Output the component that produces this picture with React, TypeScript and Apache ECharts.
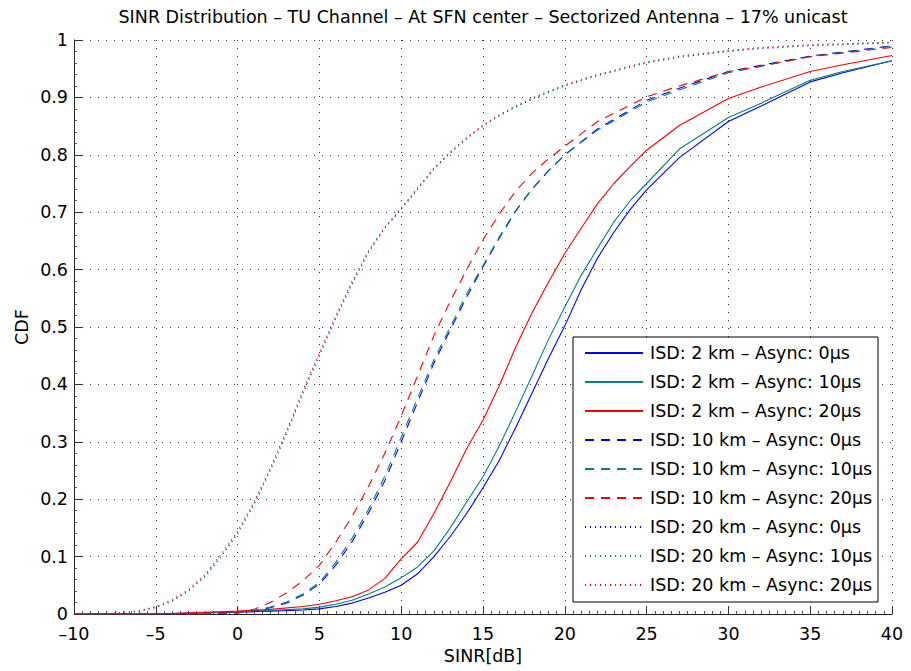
import React, { useEffect, useRef } from "react";
import * as echarts from "echarts";

const TITLE = "SINR Distribution \u2013 TU Channel \u2013 At SFN center \u2013 Sectorized Antenna \u2013 17% unicast";
const X_NAME = "SINR[dB]";
const Y_NAME = "CDF";

const seriesNames = [
  "ISD: 2 km \u2013 Async: 0\u03bcs",
  "ISD: 2 km \u2013 Async: 10\u03bcs",
  "ISD: 2 km \u2013 Async: 20\u03bcs",
  "ISD: 10 km \u2013 Async: 0\u03bcs",
  "ISD: 10 km \u2013 Async: 10\u03bcs",
  "ISD: 10 km \u2013 Async: 20\u03bcs",
  "ISD: 20 km \u2013 Async: 0\u03bcs",
  "ISD: 20 km \u2013 Async: 10\u03bcs",
  "ISD: 20 km \u2013 Async: 20\u03bcs",
];

// 2 km (solid)
const solidX = [-10, -5, 0, 2, 4, 5, 6, 7, 8, 9, 10, 11, 12, 13, 14, 15, 16, 17, 18, 19, 20, 21, 22, 23, 24, 25, 27, 30, 32, 35, 37, 40];
const solidBlue = [0, 0, 0.003, 0.005, 0.007, 0.009, 0.013, 0.019, 0.028, 0.038, 0.05, 0.07, 0.1, 0.135, 0.175, 0.22, 0.268, 0.325, 0.385, 0.445, 0.502, 0.565, 0.62, 0.665, 0.705, 0.739, 0.795, 0.858, 0.885, 0.927, 0.943, 0.964];
const solidTeal = [0, 0, 0.004, 0.006, 0.009, 0.012, 0.017, 0.024, 0.035, 0.047, 0.063, 0.082, 0.11, 0.15, 0.195, 0.239, 0.293, 0.353, 0.415, 0.478, 0.535, 0.59, 0.637, 0.683, 0.72, 0.75, 0.81, 0.865, 0.89, 0.93, 0.945, 0.964];
const solidRed = [0, 0, 0.005, 0.008, 0.013, 0.017, 0.023, 0.03, 0.042, 0.062, 0.096, 0.125, 0.175, 0.23, 0.288, 0.338, 0.398, 0.465, 0.525, 0.578, 0.628, 0.672, 0.715, 0.75, 0.78, 0.808, 0.851, 0.898, 0.918, 0.945, 0.957, 0.973];

// 10 km (dashed)
const dashedX = [-10, -2, 0, 1, 2, 3, 4, 5, 6, 7, 8, 9, 10, 11, 12, 13, 14, 15, 16, 17, 18, 19, 20, 22, 25, 27, 30, 32, 35, 40];
const dashedBlue = [0, 0, 0.002, 0.005, 0.011, 0.019, 0.033, 0.052, 0.085, 0.126, 0.176, 0.232, 0.3, 0.369, 0.437, 0.495, 0.552, 0.605, 0.655, 0.702, 0.74, 0.772, 0.8, 0.845, 0.895, 0.916, 0.945, 0.956, 0.972, 0.99];
const dashedTeal = [0, 0, 0.002, 0.006, 0.012, 0.021, 0.035, 0.055, 0.09, 0.132, 0.182, 0.24, 0.308, 0.376, 0.443, 0.5, 0.558, 0.607, 0.657, 0.703, 0.741, 0.772, 0.8, 0.843, 0.892, 0.913, 0.943, 0.954, 0.971, 0.989];
const dashedRed = [0, 0, 0.003, 0.008, 0.02, 0.037, 0.058, 0.085, 0.125, 0.17, 0.222, 0.28, 0.345, 0.415, 0.485, 0.545, 0.6, 0.652, 0.697, 0.737, 0.768, 0.793, 0.815, 0.858, 0.901, 0.92, 0.945, 0.955, 0.971, 0.987];

// 20 km (dotted)
const dottedX = [-10, -8, -7, -6, -5, -4, -3, -2, -1, 0, 1, 2, 3, 4, 5, 6, 7, 8, 9, 10, 11, 12, 13, 14, 15, 16, 17, 18, 20, 22, 25, 27, 30, 32, 35, 40];
const dottedBlue = [0, 0, 0.002, 0.005, 0.011, 0.022, 0.04, 0.065, 0.1, 0.14, 0.19, 0.25, 0.315, 0.385, 0.45, 0.515, 0.575, 0.63, 0.672, 0.705, 0.74, 0.775, 0.803, 0.828, 0.85, 0.868, 0.883, 0.897, 0.92, 0.938, 0.96, 0.97, 0.98, 0.985, 0.99, 0.995];
const dottedTeal = [0, 0, 0.002, 0.005, 0.012, 0.023, 0.041, 0.066, 0.101, 0.142, 0.192, 0.252, 0.317, 0.387, 0.452, 0.517, 0.577, 0.631, 0.673, 0.706, 0.741, 0.776, 0.804, 0.829, 0.851, 0.869, 0.884, 0.898, 0.921, 0.939, 0.961, 0.971, 0.981, 0.986, 0.991, 0.996];
const dottedRed = [0, 0, 0.003, 0.006, 0.013, 0.025, 0.043, 0.069, 0.104, 0.145, 0.195, 0.255, 0.32, 0.39, 0.455, 0.52, 0.58, 0.633, 0.674, 0.707, 0.742, 0.777, 0.805, 0.83, 0.852, 0.87, 0.885, 0.899, 0.922, 0.94, 0.962, 0.972, 0.982, 0.987, 0.992, 0.996];

const BLUE = "#0000ff";
const TEAL = "#008080";
const RED = "#ff0000";
const FONT = "DejaVu Sans, Verdana, sans-serif";
const FS = 17.5;

const zip = (xs: number[], ys: number[]) => xs.map((x, i) => [x, ys[i]]);

export default function App() {
  const ref = useRef<HTMLDivElement>(null);
  useEffect(() => {
    if (!ref.current) return;
    const chart = echarts.init(ref.current, null, { renderer: "svg" });
    const defs: [number[], number[], string, any][] = [
      [solidX, solidBlue, BLUE, "solid"],
      [solidX, solidTeal, TEAL, "solid"],
      [solidX, solidRed, RED, "solid"],
      [dashedX, dashedBlue, BLUE, [9, 7]],
      [dashedX, dashedTeal, TEAL, [9, 7]],
      [dashedX, dashedRed, RED, [9, 7]],
      [dottedX, dottedBlue, BLUE, [1, 4]],
      [dottedX, dottedTeal, TEAL, [1, 4]],
      [dottedX, dottedRed, RED, [1, 4]],
    ];
    const series = defs.map(([xs, ys, color, type], i) => ({
      name: seriesNames[i],
      type: "line",
      data: zip(xs, ys),
      showSymbol: false,
      symbol: "none",
      smooth: false,
      color,
      lineStyle: { color, width: 1.1, type },
      z: 2,
    }));
    const L = 74, T = 40, W = 818, H = 574;
    chart.setOption({
      animation: false,
      backgroundColor: "#ffffff",
      textStyle: { fontFamily: FONT },
      grid: { left: L, top: T, width: W, height: H, containLabel: false },
      xAxis: {
        type: "value",
        min: -10,
        max: 40,
        interval: 5,
        axisLine: { show: true, onZero: false, lineStyle: { color: "#222", width: 1 } },
        axisTick: { show: true, inside: true, length: 8, lineStyle: { color: "#333" } },
        minorTick: { show: true, splitNumber: 10, length: 3, lineStyle: { color: "#555" } },
        axisLabel: {
          color: "#000",
          fontSize: FS,
          fontFamily: FONT,
          margin: 11,
          formatter: (v: number) => (v < 0 ? "\u2013" + Math.abs(v) : String(v)),
        },
        splitLine: { show: true, lineStyle: { color: "#333", type: [1, 7], width: 1 } },
      },
      yAxis: {
        type: "value",
        min: 0,
        max: 1,
        interval: 0.1,
        axisLine: { show: true, onZero: false, lineStyle: { color: "#222", width: 1 } },
        axisTick: { show: true, inside: true, length: 8, lineStyle: { color: "#333" } },
        minorTick: { show: true, splitNumber: 5, length: 3, lineStyle: { color: "#555" } },
        axisLabel: { color: "#000", fontSize: FS, fontFamily: FONT, margin: 6 },
        splitLine: { show: true, lineStyle: { color: "#333", type: [1, 7], width: 1 } },
      },
      legend: {
        show: true,
        orient: "vertical",
        left: 584,
        top: 344,
        padding: 0,
        itemWidth: 58,
        itemHeight: 18,
        itemGap: 11,
        selectedMode: false,
        itemStyle: { opacity: 0, borderWidth: 0 },
        textStyle: { color: "#000", fontSize: FS, fontFamily: FONT, padding: [0, 0, 0, 2] },
        data: seriesNames,
        z: 10,
      },
      graphic: [
        {
          type: "rect",
          z: 5,
          shape: { x: 573, y: 337, width: 305, height: 265 },
          style: { fill: "#ffffff", stroke: "#000", lineWidth: 1 },
        },
        {
          type: "text",
          x: 483,
          y: 17,
          style: { text: TITLE, fill: "#000", font: `${FS}px ${FONT}`, align: "center", verticalAlign: "middle" },
        },
        {
          type: "text",
          x: 483,
          y: 656,
          style: { text: X_NAME, fill: "#000", font: `${FS}px ${FONT}`, align: "center", verticalAlign: "middle" },
        },
        {
          type: "text",
          x: 22,
          y: 327,
          rotation: Math.PI / 2,
          style: { text: Y_NAME, fill: "#000", font: `${FS}px ${FONT}`, align: "center", verticalAlign: "middle" },
        },
      ],
      series,
    });
    return () => chart.dispose();
  }, []);
  return <div ref={ref} style={{ position: "absolute", left: 0, top: 0, width: 911, height: 671 }} />;
}
